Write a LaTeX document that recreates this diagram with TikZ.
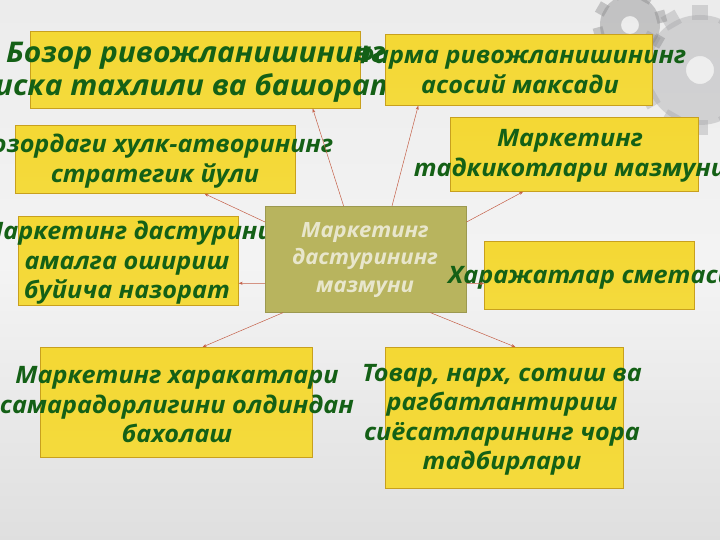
\documentclass[tikz,border=0pt]{standalone}
\usepackage{fontspec}
\setmainfont{Open Sans}[FakeStretch=1.05]
\usetikzlibrary{arrows.meta,calc}
\definecolor{txtgreen}{RGB}{20,96,22}
\definecolor{boxedge}{RGB}{200,160,30}
\definecolor{ytop}{RGB}{244,216,52}
\definecolor{ymid}{RGB}{236,188,4}
\definecolor{ybot}{RGB}{244,218,60}
\definecolor{olivebox}{RGB}{184,180,94}
\definecolor{olivetxt}{RGB}{232,230,204}
\definecolor{arrowred}{RGB}{196,96,72}
\definecolor{gearc}{RGB}{165,165,168}
\begin{document}
\begin{tikzpicture}[x=1pt,y=-1pt,
  ybox/.style={draw=boxedge, line width=0.7pt, inner sep=0pt, anchor=north west,
    top color=ytop, middle color=ymid, bottom color=ybot},
  cbox/.style={draw=olivebox!85!black, line width=0.6pt, inner sep=0pt, anchor=north west,
    fill=olivebox},
  gtxt/.style={text=txtgreen, align=center, inner sep=0pt,
    font=\fontsize{24}{29.5}\selectfont\bfseries\itshape},
  ctxt/.style={text=olivetxt, align=center, inner sep=0pt,
    font=\fontsize{21}{27.5}\selectfont\bfseries\itshape},
  arr/.style={draw=arrowred, line width=0.5pt, -{Stealth[length=4pt,width=3pt]}}]
\clip (0,0) rectangle (720,540);
\useasboundingbox (0,0) rectangle (720,540);
% background
\fill[top color=gray!15, bottom color=gray!25, middle color=gray!9] (0,0) rectangle (720,540);
% gears (decoration, top right)
\begin{scope}[opacity=0.4]
  \foreach \a in {0,30,...,330}
    \fill[gearc, rotate around={\a:(700,70)}] (692,5) rectangle (708,20);
  \fill[gearc, even odd rule] (700,70) circle (55) (700,70) circle (14);
  \foreach \a in {15,60,...,330}
    \fill[gearc!80!black, rotate around={\a:(630,25)}] (624,-12) rectangle (636,-2);
  \fill[gearc!80!black, even odd rule] (630,25) circle (30) (630,25) circle (9);
\end{scope}
% boxes and texts
\node[ybox, minimum width=330pt, minimum height=77pt] (b1) at (30,31) {};
\node[gtxt, font=\fontsize{28.5}{33}\selectfont\bfseries\itshape] (t1) at (196,72) {Бозор ривожланишининг\\иска тахлили ва башорат};
\node[ybox, minimum width=267pt, minimum height=71pt] (b2) at (385,34) {};
\node[gtxt] (t2) at (520,70) {Фарма ривожланишининг\\асосий максади};
\node[ybox, minimum width=248pt, minimum height=74pt] (b3) at (450,117) {};
\node[gtxt] (t3) at (570,156) {Маркетинг\\тадкикотлари мазмуни};
\node[ybox, minimum width=280pt, minimum height=68pt] (b4) at (15,125) {};
\node[gtxt] (t4) at (155,161) {Бозордаги хулк-атворининг\\стратегик йули};
\node[ybox, minimum width=220pt, minimum height=89pt] (b5) at (18,216) {};
\node[gtxt] (t5) at (127,263) {Маркетинг дастурини\\амалга ошириш\\буйича назорат};
\node[cbox, minimum width=201pt, minimum height=106pt] (c) at (265,206) {};
\node[ctxt] (tc) at (365,260) {Маркетинг\\дастурининг\\мазмуни};
\node[ybox, minimum width=210pt, minimum height=68pt] (b6) at (484,241) {};
\node[gtxt, anchor=west] (t6) at (448,278) {Харажатлар сметаси};
\node[ybox, minimum width=272pt, minimum height=110pt] (b7) at (40,347) {};
\node[gtxt] (t7) at (177,405) {Маркетинг харакатлари\\самарадорлигини олдиндан\\бахолаш};
\node[ybox, minimum width=238pt, minimum height=141pt] (b8) at (385,347) {};
\node[gtxt] (t8) at (502,420) {Товар, нарх, сотиш ва\\рагбатлантириш\\сиёсатларининг чора\\тадбирлари};
% connectors
\draw[arr] ($(c.north west)!0.39!(c.north east)$) -- ($(b1.south west)!0.855!(b1.south east)$);
\draw[arr] ($(c.north west)!0.63!(c.north east)$) -- ($(b2.south west)!0.124!(b2.south east)$);
\draw[arr] ($(c.north east)!0.15!(c.south east)$) -- ($(b3.south west)!0.294!(b3.south east)$);
\draw[arr] ($(c.north west)!0.15!(c.south west)$) -- ($(b4.south west)!0.675!(b4.south east)$);
\draw[arr] ($(c.north west)!0.726!(c.south west)$) -- ($(b5.north east)!0.75!(b5.south east)$);
\draw[arr] ($(c.north east)!0.726!(c.south east)$) -- ($(b6.north west)!0.62!(b6.south west)$);
\draw[arr] ($(c.south west)!0.09!(c.south east)$) -- ($(b7.north west)!0.596!(b7.north east)$);
\draw[arr] ($(c.south west)!0.82!(c.south east)$) -- ($(b8.north west)!0.546!(b8.north east)$);
\end{tikzpicture}
\end{document}
